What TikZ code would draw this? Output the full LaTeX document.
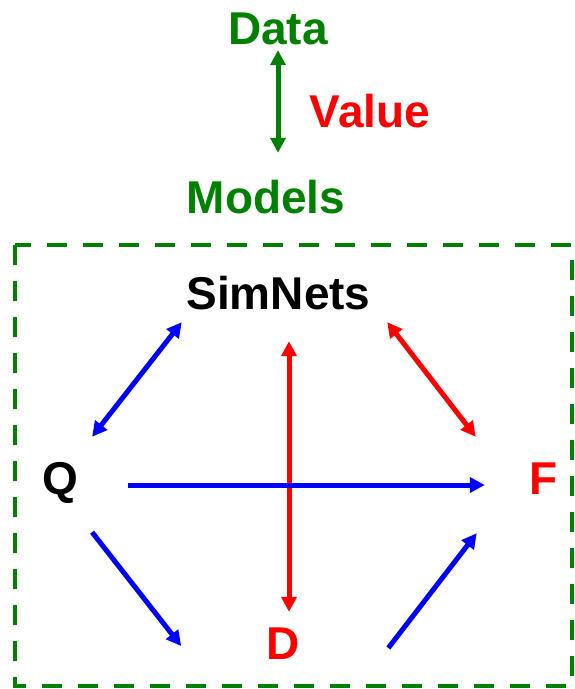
\documentclass[tikz,border=0pt]{standalone}
\usepackage{fontspec}
\setmainfont{Liberation Sans}
\usetikzlibrary{arrows.meta}
\definecolor{dvgreen}{RGB}{0,128,0}
\definecolor{dvred}{RGB}{255,0,0}
\definecolor{dvblue}{RGB}{0,0,255}

\begin{document}
\begin{tikzpicture}[
  x=1pt, y=-1pt,
  lbl/.style={font=\fontsize{46}{50}\selectfont\bfseries, inner sep=0pt,
              text height=33pt, text depth=0pt},
  tip/.style={line width=5pt, {Triangle[length=15pt,width=15pt]}-{Triangle[length=15pt,width=15pt]}},
  onetip/.style={line width=5pt, -{Triangle[length=15pt,width=15pt]}},
  frame/.style={draw=dvgreen, line width=4pt, dash pattern=on 20pt off 16pt}
]
\useasboundingbox (0,0) rectangle (575,689);

% labels
\node[lbl, text=dvgreen] (data)    at (278,28)    {Data};
\node[lbl, text=dvred]   (value)   at (370,111)   {Value};
\node[lbl, text=dvgreen] (models)  at (266,197)   {Models};
\node[lbl]               (simnets) at (278.5,292.5) {SimNets};
\node[lbl]               (q)       at (60,478)    {Q};
\node[lbl, text=dvred]   (f)       at (544,478)   {F};
\node[lbl, text=dvred]   (d)       at (283,643)   {D};

% dashed frame
\draw[frame] (15,245) rectangle (572,686);

% connectors
\draw[tip, dvgreen] ([yshift=-5.5pt]data.south) -- ([xshift=12pt,yshift=27.5pt]models.north);
\draw[tip, dvblue] ([xshift=14pt,yshift=24.5pt]q.north east) -- ([xshift=-4.5pt,yshift=-13pt]simnets.south west);
\draw[tip, dvred] ([xshift=16.5pt,yshift=-13pt]simnets.south east) -- ([xshift=-54pt,yshift=24.5pt]f.north west);
\draw[tip, dvred] ([xshift=10.5pt,yshift=-32pt]simnets.south) -- ([xshift=6pt,yshift=14.5pt]d.north);
\draw[onetip, dvblue] ([xshift=50pt,yshift=-7pt]q.east) -- ([xshift=-45pt,yshift=-7pt]f.west);
\draw[onetip, dvblue] ([xshift=14pt,yshift=-37.5pt]q.south east) -- ([xshift=-85pt,yshift=-3pt]d.west);
\draw[onetip, dvblue] ([xshift=88.5pt,yshift=-5pt]d.east) -- ([xshift=-53pt,yshift=-38.5pt]f.south west);
\end{tikzpicture}
\end{document}
